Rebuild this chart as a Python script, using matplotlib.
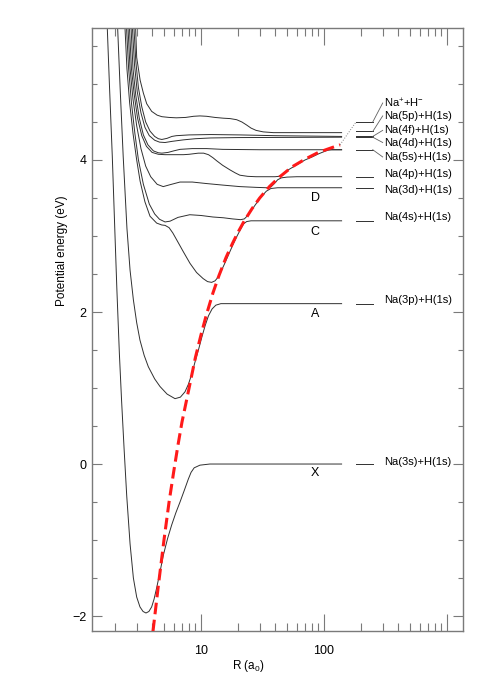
import numpy as np
import matplotlib
matplotlib.use('Agg')
import matplotlib.pyplot as plt
from matplotlib.ticker import FixedLocator, NullFormatter, FixedFormatter

plt.rcParams['font.family'] = ['Liberation Sans', 'DejaVu Sans']
plt.rcParams['mathtext.fontset'] = 'custom'
plt.rcParams['mathtext.rm'] = 'Liberation Sans'
plt.rcParams['mathtext.it'] = 'Liberation Sans'

# adiabatic curves: R (a0), energy (eV)
R_X = [1.73, 1.8, 1.9, 2.0, 2.07, 2.17, 2.26, 2.37, 2.49, 2.65, 2.82, 3.0, 3.19, 3.38, 3.57, 3.77, 3.97,
       4.15, 4.36, 4.64, 4.94, 5.35, 5.78, 6.25, 6.75, 7.3, 7.88, 8.3, 8.8, 9.8, 11.8, 139]
E_X = [5.74, 5.0, 4.05, 3.0, 2.3, 1.45, 0.84, 0.2, -0.42, -1.05, -1.5, -1.75, -1.88, -1.94, -1.96, -1.94, -1.88,
       -1.78, -1.63, -1.42, -1.2, -0.98, -0.8, -0.64, -0.5, -0.35, -0.2, -0.11, -0.05, -0.015, 0.0, 0.0]

R_A = [2.1, 2.2, 2.33, 2.5, 2.65, 2.82, 3.0, 3.19, 3.45, 3.73, 4.2, 4.64, 5.3, 6.15, 6.8, 7.41, 7.9, 8.4,
       9.0, 9.6, 10.2, 10.8, 11.5, 12.3, 13.2, 14.5, 139]
E_A = [5.74, 4.95, 4.05, 3.1, 2.55, 2.16, 1.86, 1.63, 1.43, 1.28, 1.12, 1.02, 0.92, 0.86, 0.88, 0.95, 1.05, 1.18,
       1.36, 1.52, 1.68, 1.82, 1.95, 2.04, 2.09, 2.11, 2.11]

R_C = [2.41, 2.5, 2.63, 2.8, 3.0, 3.2, 3.5, 3.85, 4.36, 4.8, 5.1, 5.5, 5.9, 6.34, 7.2, 8.14, 9.2, 10.4, 11.3,
       12.2, 13.0, 13.8, 14.6, 15.5, 16.5, 18, 19.5, 21, 22.2, 23.5, 25.5, 139]
E_C = [5.74, 5.2, 4.75, 4.35, 4.0, 3.72, 3.45, 3.26, 3.17, 3.145, 3.14, 3.11, 3.04, 2.95, 2.79, 2.64, 2.52, 2.44, 2.40,
       2.39, 2.41, 2.46, 2.54, 2.63, 2.73, 2.87, 2.99, 3.09, 3.16, 3.19, 3.2, 3.2]

R_D = [2.48, 2.58, 2.72, 2.9, 3.1, 3.4, 3.8, 4.2, 4.6, 5.1, 5.6, 6.5, 8.1, 10, 12.5, 15.2, 18, 21, 22.5, 24,
       26, 28.5, 31, 34, 37, 42, 139]
E_D = [5.74, 5.2, 4.75, 4.35, 4.0, 3.68, 3.42, 3.29, 3.22, 3.185, 3.195, 3.245, 3.28, 3.27, 3.25, 3.24, 3.225, 3.215,
       3.225, 3.27, 3.35, 3.44, 3.52, 3.59, 3.625, 3.635, 3.635]

R_E = [2.55, 2.65, 2.8, 3.0, 3.25, 3.55, 3.9, 4.4, 4.93, 5.6, 6.75, 8.5, 11.1, 15, 20.7, 28, 34, 37, 39.5,
       42, 45, 50, 60, 139]
E_E = [5.74, 5.2, 4.8, 4.45, 4.15, 3.92, 3.78, 3.68, 3.65, 3.675, 3.71, 3.71, 3.69, 3.67, 3.65, 3.64, 3.635, 3.645,
       3.69, 3.74, 3.765, 3.775, 3.78, 3.78]

R_F = [2.62, 2.72, 2.87, 3.05, 3.3, 3.6, 4.0, 4.5, 5.1, 6.0, 7.2, 8.0, 9.5, 10.5, 11.5, 12.5, 13.4, 15, 17.2,
       19, 20.7, 24, 28, 40, 43, 46, 50, 55, 62, 70, 80, 90, 100, 108, 115, 139]
E_F = [5.74, 5.2, 4.85, 4.55, 4.32, 4.18, 4.1, 4.075, 4.07, 4.07, 4.07, 4.075, 4.09, 4.09, 4.07, 4.03, 3.99, 3.93, 3.87,
       3.83, 3.8, 3.785, 3.78, 3.78, 3.785, 3.81, 3.86, 3.9, 3.95, 4.0, 4.04, 4.08, 4.11, 4.13, 4.135, 4.135]

R_G = [2.70, 2.8, 2.95, 3.15, 3.4, 3.7, 4.1, 4.5, 4.8, 5.4, 6.0, 6.75, 8.5, 11.1, 15, 30, 139]
E_G = [5.74, 5.2, 4.85, 4.55, 4.33, 4.2, 4.12, 4.095, 4.09, 4.1, 4.12, 4.14, 4.15, 4.15, 4.14, 4.135, 4.135]

R_H = [2.77, 2.88, 3.03, 3.25, 3.5, 3.8, 4.2, 4.6, 5.1, 5.8, 7.2, 9, 12, 20, 139]
E_H = [5.74, 5.25, 4.9, 4.62, 4.43, 4.32, 4.26, 4.235, 4.23, 4.245, 4.265, 4.28, 4.29, 4.295, 4.30]

R_I = [2.85, 2.95, 3.1, 3.3, 3.55, 3.85, 4.2, 4.5, 4.8, 5.3, 5.8, 6.3, 8, 12, 20.7, 40, 139]
E_I = [5.74, 5.3, 4.95, 4.7, 4.5, 4.38, 4.31, 4.28, 4.27, 4.285, 4.31, 4.32, 4.33, 4.335, 4.33, 4.32, 4.31]

R_J = [2.94, 3.0, 3.2, 3.4, 3.62, 3.97, 4.4, 4.8, 5.5, 6.3, 7.5, 8.7, 9.8, 11.1, 13, 15.2, 17.2, 19.5, 21.5,
       23.5, 25.5, 28, 32, 38.7, 139]
E_J = [5.74, 5.35, 5.05, 4.88, 4.74, 4.64, 4.59, 4.57, 4.56, 4.555, 4.56, 4.575, 4.58, 4.575, 4.56, 4.55, 4.545, 4.53, 4.5,
       4.46, 4.42, 4.39, 4.37, 4.36, 4.36]

# ionic Na+ + H- curve (red dashed)
R_ion = [4.07, 4.5, 5, 5.5, 6, 6.5, 7, 8, 9, 10, 11, 12.5, 14, 16, 18, 20, 22.5, 26, 30, 36, 43, 55, 70, 90, 110, 135]
E_ion = [-2.2, -1.6, -1.0, -0.5, -0.1, 0.25, 0.55, 1.0, 1.4, 1.7, 1.95, 2.25, 2.48, 2.72, 2.9, 3.05, 3.2, 3.36, 3.5,
         3.65, 3.77, 3.91, 4.01, 4.1, 4.15, 4.2]

# separated-atom limits
limit_E = [4.5, 4.375, 4.31, 4.30, 4.135, 3.775, 3.635, 3.2, 2.11, 0.0]
limit_labels = ['Na$^{+}$+H$^{-}$', 'Na(5p)+H(1s)', 'Na(4f)+H(1s)', 'Na(4d)+H(1s)', 'Na(5s)+H(1s)',
                'Na(4p)+H(1s)', 'Na(3d)+H(1s)', 'Na(4s)+H(1s)', 'Na(3p)+H(1s)', 'Na(3s)+H(1s)']
label_E = [4.75, 4.58, 4.39, 4.23, 4.04, 3.82, 3.61, 3.25, 2.16, 0.03]
state_names = ['X', 'A', 'C', 'D']
state_E = [-0.12, 1.97, 3.05, 3.5]

fig = plt.figure(figsize=(4.91, 6.89), dpi=100)
ax = fig.add_axes([0.1874, 0.0846, 0.7556, 0.8748])

lc = '#303030'
for R, E in [(R_X, E_X), (R_A, E_A), (R_C, E_C), (R_D, E_D), (R_E, E_E), (R_F, E_F),
             (R_G, E_G), (R_H, E_H), (R_I, E_I), (R_J, E_J)]:
    ax.plot(R, E, color=lc, lw=0.7)

ax.plot(R_ion, E_ion, color='#ff1a1a', lw=2.2, dashes=(3.8, 1.8), zorder=5)
ax.plot([R_ion[-1], 182], [E_ion[-1], limit_E[0]], color='#808080', lw=0.7, ls=':')

# asymptote marks, connectors and labels
for i, (e, lab, ly) in enumerate(zip(limit_E, limit_labels, label_E)):
    ax.plot([182, 249], [e, e], color=lc, lw=0.7)
    if i < 5:
        ax.plot([249, 300], [e, ly], color='#606060', lw=0.6)
    ax.text(310, ly, lab, fontsize=8, ha='left', va='center')

for name, e in zip(state_names, state_E):
    ax.text(85, e, name, fontsize=9, ha='center', va='center')

ax.set_xscale('log')
ax.set_xlim(1.3, 1349)
ax.set_ylim(-2.193, 5.737)

ax.xaxis.set_major_locator(FixedLocator([10, 100, 1000]))
ax.xaxis.set_major_formatter(FixedFormatter(['10', '100', '']))
ax.xaxis.set_minor_locator(FixedLocator([m * 10.0 ** k for k in range(0, 3) for m in range(2, 10)]))
ax.xaxis.set_minor_formatter(NullFormatter())
ax.yaxis.set_major_locator(FixedLocator([-2, 0, 2, 4]))
ax.yaxis.set_minor_locator(FixedLocator(np.arange(-2, 6, 0.5)))

sc = '#7a7a7a'
ax.tick_params(axis='x', which='major', direction='in', length=12, width=0.8, color=sc, top=True, labelsize=9, pad=10)
ax.tick_params(axis='x', which='minor', direction='in', length=6, width=0.8, color=sc, top=True)
ax.tick_params(axis='y', which='major', direction='in', length=7, width=0.8, color=sc, right=True, labelsize=9, pad=4)
ax.tick_params(axis='y', which='minor', direction='in', length=3.7, width=0.8, color=sc, right=True)
for s in ax.spines.values():
    s.set_color(sc)
    s.set_linewidth(1.0)

ax.set_xlabel('R (a$_0$)', fontsize=8.5)
ax.xaxis.set_label_coords(0.42, -0.045)
ax.set_ylabel('Potential energy (eV)', fontsize=8.5)
ax.yaxis.set_label_coords(-0.066, 0.63)

fig.savefig('out.png', dpi=100)
